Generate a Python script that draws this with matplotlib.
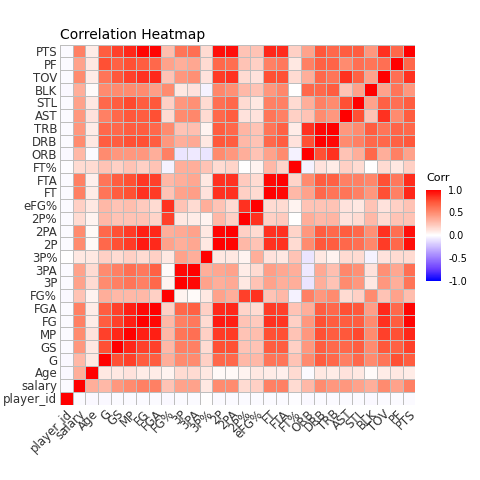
import numpy as np
import matplotlib
matplotlib.use("Agg")
import matplotlib.pyplot as plt
from matplotlib.colors import LinearSegmentedColormap

labels = ["player_id","salary","Age","G","GS","MP","FG","FGA","FG%","3P","3PA","3P%","2P","2PA","2P%","eFG%","FT","FTA","FT%","ORB","DRB","TRB","AST","STL","BLK","TOV","PF","PTS"]

upper = [
 [-0.02,-0.03,-0.03,-0.02,-0.02,-0.02,-0.02,-0.03,-0.02,-0.02,0.0,-0.02,-0.02,-0.02,-0.02,-0.02,-0.02,-0.01,-0.03,-0.02,-0.02,-0.02,-0.02,-0.03,-0.02,-0.02,-0.02],
 [0.35,0.3,0.45,0.5,0.55,0.55,0.25,0.4,0.4,0.1,0.5,0.5,0.15,0.2,0.55,0.55,0.15,0.3,0.5,0.45,0.45,0.4,0.35,0.5,0.4,0.55],
 [0.1,0.1,0.12,0.08,0.08,0.05,0.15,0.15,0.1,0.03,0.03,0.05,0.1,0.08,0.07,0.15,-0.02,0.1,0.08,0.12,0.1,0.02,0.08,0.1,0.08],
 [0.75,0.8,0.7,0.7,0.35,0.5,0.5,0.2,0.65,0.65,0.3,0.3,0.6,0.6,0.25,0.5,0.7,0.65,0.55,0.65,0.5,0.6,0.75,0.7],
 [0.88,0.8,0.8,0.3,0.55,0.55,0.15,0.75,0.75,0.25,0.25,0.7,0.7,0.2,0.45,0.7,0.65,0.65,0.7,0.5,0.72,0.68,0.8],
 [0.9,0.9,0.3,0.6,0.62,0.2,0.82,0.82,0.25,0.28,0.75,0.75,0.25,0.45,0.75,0.7,0.72,0.78,0.5,0.8,0.75,0.88],
 [0.97,0.3,0.55,0.58,0.15,0.92,0.9,0.25,0.22,0.85,0.83,0.2,0.45,0.75,0.7,0.7,0.7,0.5,0.85,0.7,0.98],
 [0.2,0.65,0.68,0.2,0.87,0.88,0.18,0.15,0.82,0.8,0.25,0.35,0.7,0.65,0.75,0.72,0.42,0.87,0.65,0.98],
 [0.05,0.02,0.1,0.4,0.35,0.8,0.85,0.25,0.3,-0.05,0.55,0.45,0.5,0.15,0.2,0.5,0.25,0.4,0.28],
 [0.97,0.4,0.35,0.37,0.1,0.25,0.4,0.35,0.35,-0.1,0.35,0.25,0.5,0.45,0.1,0.45,0.35,0.6],
 [0.35,0.38,0.4,0.08,0.15,0.42,0.38,0.35,-0.08,0.37,0.27,0.52,0.48,0.12,0.48,0.38,0.62],
 [0.1,0.1,0.05,0.35,0.12,0.1,0.25,-0.1,0.1,0.05,0.15,0.15,-0.05,0.12,0.15,0.15],
 [0.98,0.3,0.25,0.85,0.85,0.15,0.5,0.72,0.7,0.65,0.62,0.52,0.82,0.65,0.95],
 [0.2,0.15,0.85,0.85,0.18,0.45,0.7,0.65,0.7,0.65,0.48,0.85,0.63,0.95],
 [0.85,0.2,0.22,0.0,0.35,0.3,0.32,0.12,0.15,0.3,0.15,0.25,0.25],
 [0.15,0.15,0.05,0.25,0.25,0.25,0.12,0.1,0.25,0.12,0.2,0.25],
 [0.97,0.3,0.4,0.65,0.6,0.6,0.55,0.45,0.75,0.55,0.88],
 [0.18,0.5,0.7,0.68,0.55,0.55,0.52,0.75,0.58,0.86],
 [-0.05,0.12,0.08,0.2,0.15,0.0,0.15,0.1,0.2],
 [0.75,0.85,0.25,0.35,0.65,0.35,0.55,0.4],
 [0.97,0.5,0.55,0.65,0.65,0.68,0.72],
 [0.45,0.5,0.7,0.6,0.67,0.65],
 [0.75,0.25,0.85,0.5,0.7],
 [0.4,0.68,0.62,0.7],
 [0.4,0.6,0.45],
 [0.62,0.85],
 [0.65],
]

n = len(labels)
M = np.eye(n)
for i, row in enumerate(upper):
    for k, v in enumerate(row):
        j = i + 1 + k
        M[i, j] = v
        M[j, i] = v

cmap = LinearSegmentedColormap.from_list("bwr_lab", [
    (0.0, "#0000FF"), (0.125, "#6A3DFF"), (0.25, "#9C7CFF"), (0.375, "#CDBDFF"),
    (0.5, "#FFFFFF"), (0.625, "#FFC4B6"), (0.75, "#FF8C70"), (0.875, "#FF5235"), (1.0, "#FF0000")])

fig = plt.figure(figsize=(4.8, 4.8), dpi=100)
ax = fig.add_axes([0.125, 0.157, 0.74, 0.75])
mesh = ax.pcolormesh(np.arange(n+1)-0.5, np.arange(n+1)-0.5, M, cmap=cmap, vmin=-1, vmax=1,
                     edgecolor="#BEBEBE", linewidth=0.5)
ax.set_xlim(-0.5, n-0.5); ax.set_ylim(-0.5, n-0.5)
ax.set_xticks(range(n)); ax.set_yticks(range(n))
ax.set_xticklabels(labels, rotation=45, ha="right", va="top", fontsize=8.5, color="#333333", rotation_mode="anchor")
ax.set_yticklabels(labels, fontsize=8.5, color="#333333")
ax.tick_params(length=0, pad=2)
for s in ax.spines.values():
    s.set_visible(False)
ax.set_title("Correlation Heatmap", loc="left", fontsize=10, pad=4)

cax = fig.add_axes([0.888, 0.415, 0.03, 0.19])
cb = fig.colorbar(mesh, cax=cax, ticks=[-1, -0.5, 0, 0.5, 1])
cb.ax.set_yticklabels(["-1.0", "-0.5", "0.0", "0.5", "1.0"], fontsize=7)
cb.outline.set_visible(False)
cb.ax.tick_params(length=2, color="white")
cax.set_title("Corr", fontsize=8, loc="left")
fig.savefig("out.png", dpi=100, facecolor="white")
